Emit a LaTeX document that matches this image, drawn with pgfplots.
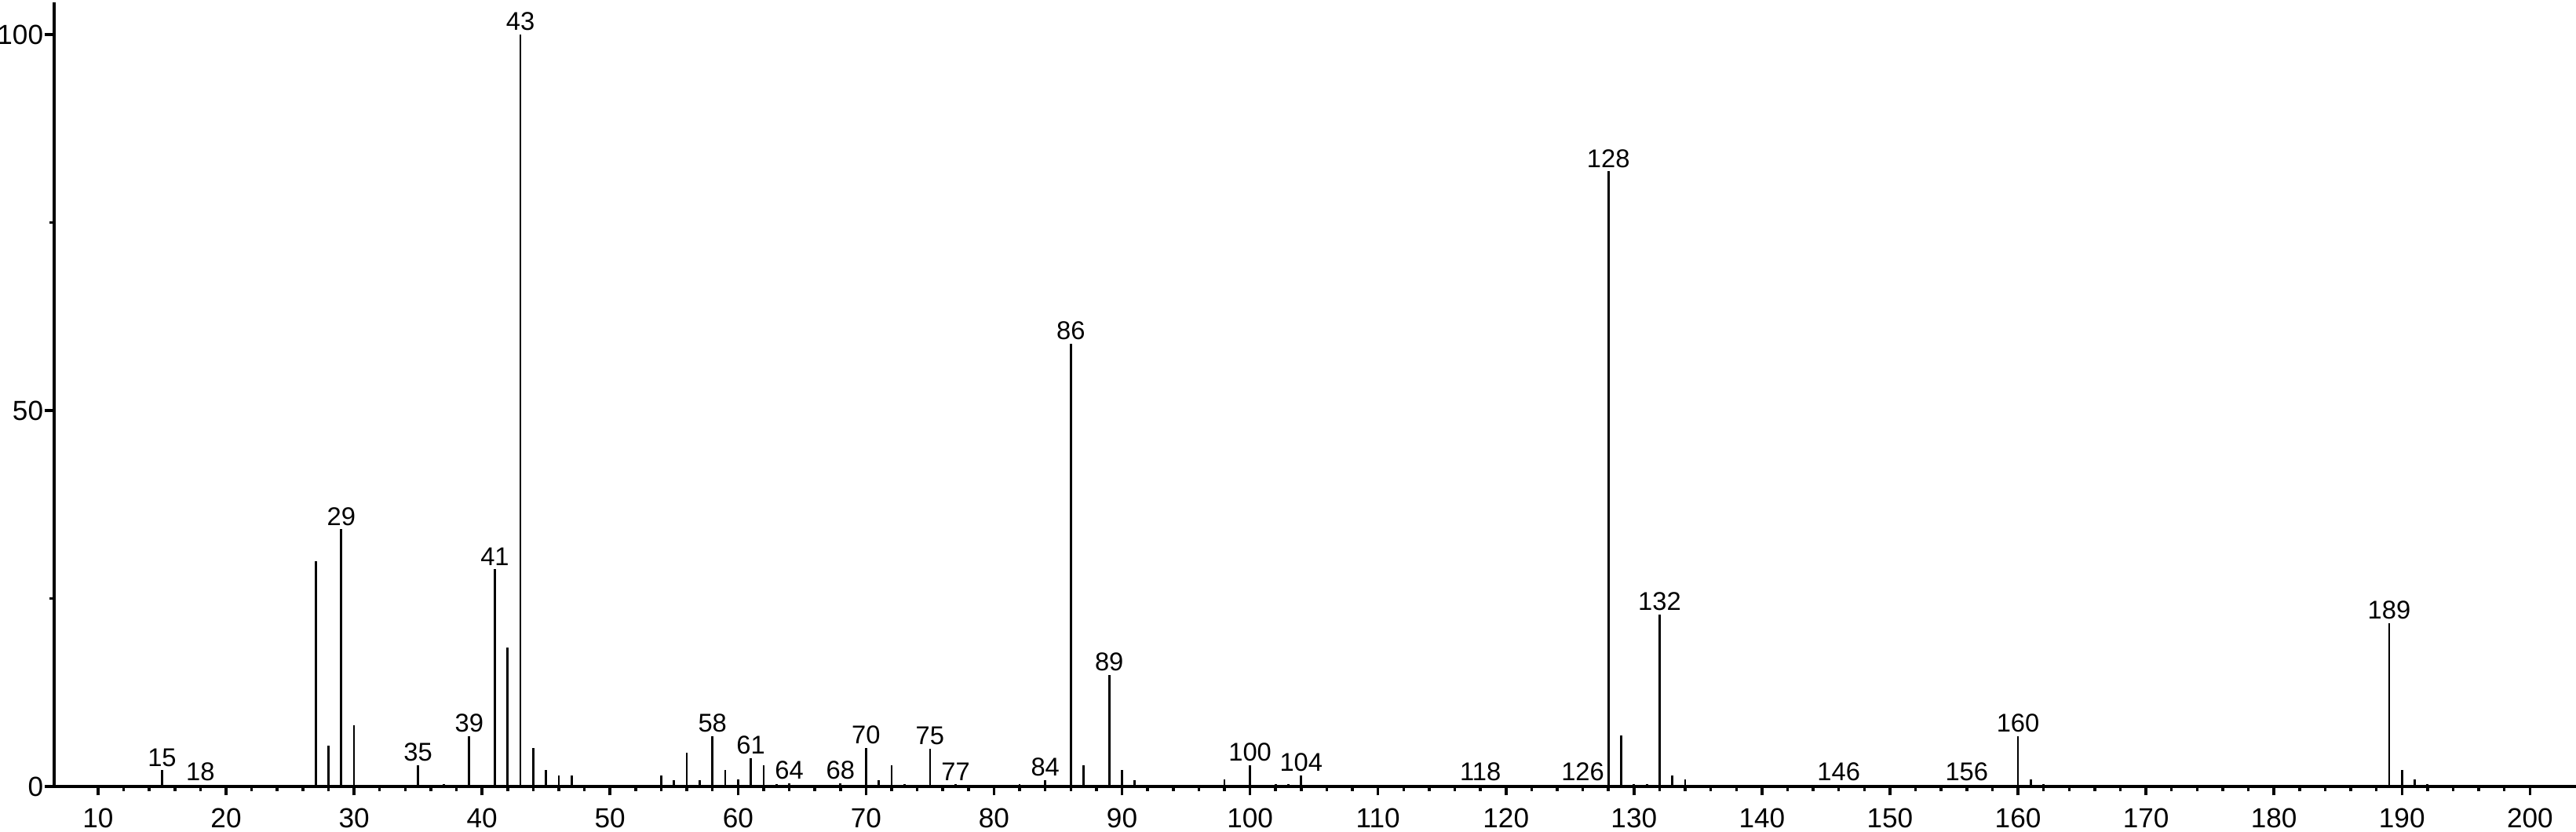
\documentclass[border=0pt]{standalone}
\usepackage{fontspec}
\setmainfont{Liberation Sans}
\usepackage{pgfplots}
\usepackage{pgfplotstable}
\pgfplotsset{compat=1.18}

% m/z, relative intensity, peak label
\pgfplotstableread{
mz  int   lab
15  2.15  15
18  0.25  18
27  30.0  {}
28  5.4   {}
29  34.2  29
30  8.1   {}
31  0.2   {}
33  0.2   {}
35  2.8   35
37  0.3   {}
39  6.7   39
41  28.9  41
42  18.5  {}
43  100   43
44  5.1   {}
45  2.15  {}
46  1.45  {}
47  1.5   {}
52  0.25  {}
54  1.5   {}
55  0.85  {}
56  4.45  {}
57  0.85  {}
58  6.7   58
59  2.2   {}
60  0.95  {}
61  3.8   61
62  2.85  {}
63  0.3   {}
64  0.4   64
68  0.4   68
70  5.1   70
71  0.85  {}
72  2.85  {}
73  0.3   {}
74  0.2   {}
75  5.0   75
77  0.3   77
82  0.3   {}
84  0.85  84
86  58.9  86
87  2.85  {}
89  14.85 89
90  2.15  {}
91  0.85  {}
98  0.95  {}
100 2.85  100
101 0.2   {}
102 0.3   {}
103 0.3   {}
104 1.45  104
118 0.2   118
126 0.2   126
128 81.8  128
129 6.8   {}
130 0.3   {}
131 0.3   {}
132 22.9  132
133 1.5   {}
134 0.9   {}
146 0.2   146
156 0.2   156
160 6.7   160
161 0.9   {}
162 0.3   {}
189 21.7  189
190 2.2   {}
191 0.9   {}
192 0.3   {}
}\spectrum

\begin{document}
\begin{tikzpicture}
\begin{axis}[
    at={(0,0)}, anchor=south west,
    scale only axis,
    width=32.13cm, height=9.99cm,
    xmin=6.57, xmax=203.6,
    ymin=0, ymax=104.3,
    clip=false,
    axis x line=bottom,
    axis y line=left,
    axis line style={-, line width=1pt},
    tick align=outside,
    xtick={10,20,...,200},
    minor x tick num=4,
    ytick={0,50,100},
    minor y tick num=1,
    major tick length=0.115cm,
    minor tick length=0.06cm,
    every tick/.style={black, line width=1pt},
    font=\fontsize{10}{12}\selectfont,
    /pgf/number format/assume math mode=true,
    xticklabel style={yshift=-0.04cm},
    yticklabel style={xshift=0.1cm},
]
\addplot[
    ycomb, black, line width=0.8pt, mark=none,
    nodes near coords,
    point meta=explicit symbolic,
    every node near coord/.append style={anchor=south, inner sep=1pt, font=\fontsize{9.3}{11}\selectfont},
] table[x=mz, y=int, meta=lab] {\spectrum};
\end{axis}
\pgfresetboundingbox
\path[use as bounding box] (-0.69cm,-0.58cm) rectangle (32.13cm,10.02cm);
\end{tikzpicture}
\end{document}
